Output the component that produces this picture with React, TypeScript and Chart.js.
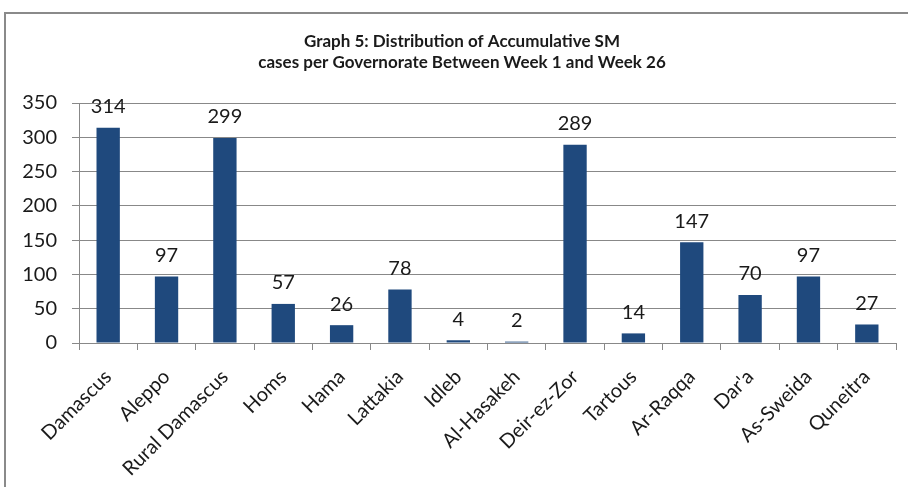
import React, { useEffect, useRef } from "react";
import { Chart, registerables } from "chart.js";

Chart.register(...registerables);

const categories = [
  "Damascus", "Aleppo", "Rural Damascus", "Homs", "Hama", "Lattakia", "Idleb",
  "Al-Hasakeh", "Deir-ez-Zor", "Tartous", "Ar-Raqqa", "Dar'a", "As-Sweida", "Quneitra",
];
const cases = [314, 97, 299, 57, 26, 78, 4, 2, 289, 14, 147, 70, 97, 27];
const titleLines = [
  "Graph 5: Distribution of Accumulative SM",
  "cases per Governorate Between Week 1 and Week 26",
];
const yMax = 350;
const yStep = 50;

const FONT = "Lato, 'Open Sans', sans-serif";

const valueLabels = {
  id: "valueLabels",
  afterDatasetsDraw(chart: any) {
    const ctx = chart.ctx;
    const meta = chart.getDatasetMeta(0);
    ctx.save();
    ctx.font = `20px ${FONT}`;
    ctx.fillStyle = "#1a1a1a";
    ctx.textAlign = "center";
    ctx.textBaseline = "bottom";
    meta.data.forEach((el: any, i: number) => {
      ctx.fillText(String(cases[i]), el.x, el.y - 11);
    });
    ctx.restore();
  },
};

const chartTitle = {
  id: "chartTitle",
  afterDraw(chart: any) {
    const ctx = chart.ctx;
    ctx.save();
    ctx.font = `bold 17px ${FONT}`;
    ctx.fillStyle = "#1a1a1a";
    ctx.textAlign = "center";
    ctx.textBaseline = "middle";
    const cx = chart.width / 2 + 8;
    titleLines.forEach((line, i) => {
      ctx.fillText(line, cx, 42 + i * 21);
    });
    ctx.restore();
  },
};

export default function App() {
  const ref = useRef<HTMLCanvasElement | null>(null);
  useEffect(() => {
    if (!ref.current) return;
    const chart = new Chart(ref.current, {
      type: "bar",
      data: {
        labels: categories,
        datasets: [
          {
            data: cases,
            backgroundColor: "#1F497D",
            borderWidth: 0,
            barPercentage: 0.4,
            categoryPercentage: 1,
          },
        ],
      },
      options: {
        animation: false,
        responsive: false,
        devicePixelRatio: 1,
        layout: { padding: { left: 0, right: 12, top: 103, bottom: 0 } },
        plugins: {
          legend: { display: false },
          tooltip: { enabled: false },
          title: { display: false },
        },
        scales: {
          x: {
            afterFit: (s: any) => {
              s.height = 144;
            },
            grid: {
              display: true,
              drawOnChartArea: false,
              offset: true,
              tickLength: 7,
              color: "#888888",
            },
            border: { color: "#888888" },
            ticks: {
              minRotation: 45,
              maxRotation: 45,
              autoSkip: false,
              color: "#1a1a1a",
              padding: 15,
              font: { family: FONT, size: 20 },
            },
          },
          y: {
            min: 0,
            max: yMax,
            afterFit: (s: any) => {
              s.width = 79;
            },
            grid: { color: "#888888", tickLength: 7 },
            border: { color: "#888888" },
            ticks: {
              stepSize: yStep,
              color: "#1a1a1a",
              padding: 15,
              font: { family: FONT, size: 20 },
            },
          },
        },
      },
      plugins: [valueLabels, chartTitle],
    });
    return () => chart.destroy();
  }, []);

  return (
    <div style={{ position: "fixed", left: 0, top: 0, width: 908, height: 487, background: "#fff", overflow: "hidden" }}>
      <div
        style={{
          position: "absolute",
          left: 4,
          top: 12,
          width: 960,
          height: 520,
          border: "2px solid #8a8a8a",
          boxSizing: "border-box",
        }}
      />
      <canvas ref={ref} width={908} height={487} style={{ position: "absolute", left: 0, top: 0 }} />
    </div>
  );
}
